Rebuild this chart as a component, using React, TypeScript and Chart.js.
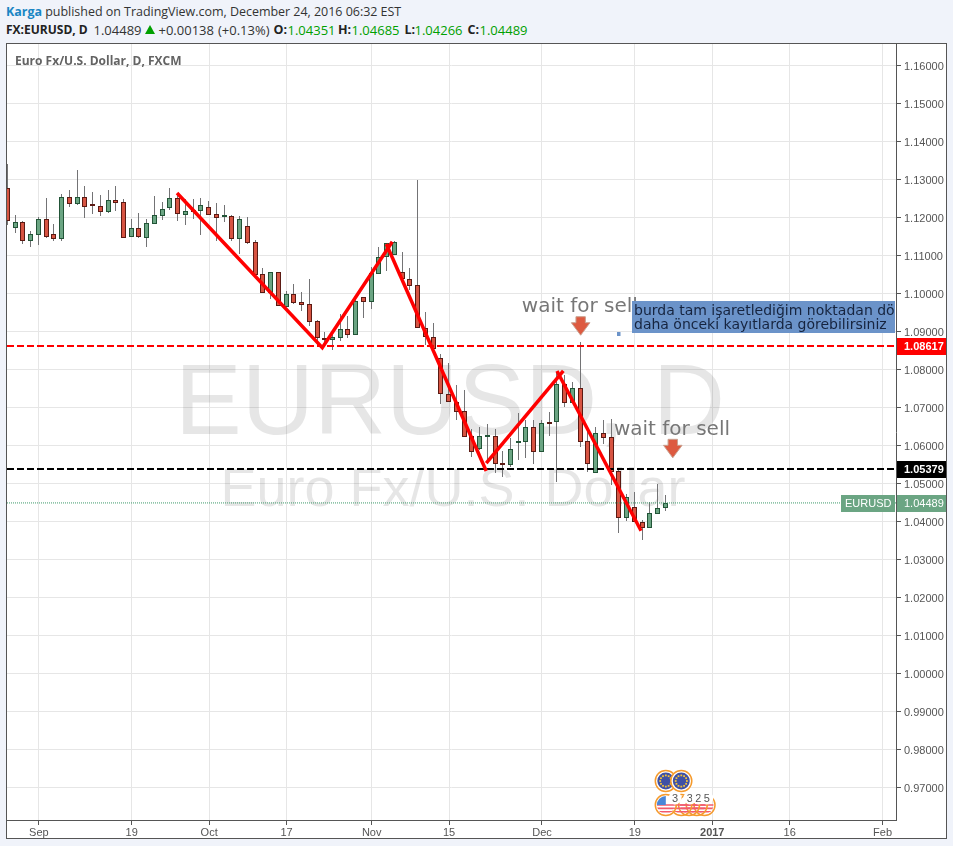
import React, { useEffect, useRef } from "react";
import { Chart, registerables } from "chart.js";

Chart.register(...registerables);

const opens = [1.1277,1.11733,1.11873,1.11391,1.11549,1.11952,1.11557,1.11443,1.12531,1.12364,1.12531,1.12347,1.12312,1.12154,1.12452,1.12399,1.11496,1.11715,1.1147,1.11838,1.12049,1.12241,1.12505,1.12075,1.12189,1.1218,1.12268,1.12084,1.12005,1.12031,1.11443,1.11768,1.11347,1.10505,1.10005,1.10557,1.09654,1.09978,1.09768,1.09715,1.09268,1.08803,1.08785,1.08838,1.09057,1.08917,1.09899,1.09785,1.10522,1.10952,1.11022,1.10557,1.10373,1.10215,1.09084,1.08864,1.08294,1.07347,1.07154,1.06899,1.06241,1.05899,1.06233,1.06241,1.05504,1.05478,1.06075,1.06101,1.06478,1.05838,1.06592,1.06627,1.0761,1.07127,1.07505,1.0611,1.05285,1.0632,1.06215,1.0532,1.04101,1.04373,1.03996,1.03838,1.04206,1.04351];
const highs = [1.13408,1.12066,1.11917,1.11645,1.12022,1.12505,1.11829,1.12619,1.12724,1.1325,1.12829,1.12671,1.12592,1.12715,1.12829,1.12478,1.1197,1.12119,1.11952,1.12566,1.12417,1.12777,1.12636,1.12487,1.12478,1.12505,1.12434,1.12382,1.12329,1.12066,1.12031,1.12013,1.11408,1.10671,1.10557,1.10557,1.10066,1.1025,1.1004,1.10382,1.09303,1.08978,1.08952,1.09452,1.09408,1.09917,1.09917,1.10706,1.11215,1.11338,1.11391,1.11084,1.10662,1.12987,1.09522,1.09215,1.08399,1.08163,1.07592,1.07461,1.06426,1.06478,1.06566,1.06426,1.05847,1.06189,1.06847,1.06671,1.06671,1.06671,1.06882,1.07899,1.07855,1.07663,1.08733,1.06496,1.06496,1.06671,1.06689,1.05355,1.04724,1.04785,1.0404,1.04504,1.04987,1.04685];
const lows = [1.11803,1.11584,1.11303,1.11233,1.11277,1.11452,1.11391,1.11391,1.12285,1.12329,1.11996,1.12101,1.12049,1.12127,1.1218,1.1147,1.11496,1.1147,1.11224,1.11838,1.11934,1.12198,1.11917,1.11803,1.11961,1.1154,1.12066,1.11391,1.11891,1.11391,1.1104,1.11303,1.10487,1.10022,1.09847,1.0968,1.09654,1.09715,1.09531,1.09154,1.08601,1.08601,1.08513,1.08759,1.08838,1.08917,1.09356,1.09592,1.10505,1.10601,1.11022,1.10312,1.10092,1.09084,1.08645,1.08513,1.07092,1.07154,1.06671,1.06233,1.05706,1.05882,1.05619,1.05268,1.0518,1.05443,1.05619,1.05662,1.05514,1.05838,1.06259,1.05048,1.07022,1.0711,1.0597,1.05312,1.05268,1.0604,1.04961,1.03689,1.04013,1.03996,1.03513,1.0382,1.04197,1.04266];
const closes = [1.1191,1.11873,1.11391,1.11557,1.11952,1.11496,1.11443,1.12531,1.12364,1.12531,1.12285,1.12312,1.12154,1.12452,1.12391,1.1147,1.11715,1.11478,1.11847,1.12057,1.12215,1.12505,1.12084,1.12163,1.12145,1.1232,1.12075,1.11996,1.12031,1.11443,1.11952,1.11338,1.10487,1.10022,1.10557,1.0968,1.09978,1.09759,1.09706,1.09259,1.0882,1.08785,1.08847,1.09057,1.08917,1.09794,1.09785,1.10531,1.10952,1.1132,1.11364,1.10373,1.10206,1.09084,1.08864,1.08531,1.07347,1.07154,1.06891,1.06233,1.0582,1.06241,1.0625,1.05504,1.05478,1.05899,1.06101,1.06478,1.05838,1.06584,1.06575,1.0761,1.07127,1.07505,1.06101,1.05522,1.0632,1.06206,1.05312,1.04101,1.04654,1.03996,1.03829,1.04215,1.04347,1.04489];

const xTickIndexes = [4, 16, 26, 36, 47, 57, 69, 81, 91, 101, 113];
const xTickLabels = ["Sep", "19", "Oct", "17", "Nov", "15", "Dec", "19", "2017", "16", "Feb"];

const trendDown1X = [21.85, 40.62, 49.66];
const trendDown1Y = [1.12645, 1.08574, 1.11363];
const trendDown2X = [48.89, 61.8];
const trendDown2Y = [1.11303, 1.05329];
const trendUp3X = [61.8, 71.76];
const trendUp3Y = [1.05539, 1.07961];
const trendDown4X = [70.94, 81.8];
const trendDown4Y = [1.07961, 1.03758];

const redLevel = 1.08617;
const blackLevel = 1.05379;
const lastPrice = 1.04489;

const noteLabels = ["wait for sell", "wait for sell"];
const noteX = [66.4, 78.3];
const noteY = [1.09513, 1.06276];
const arrowX = [74.0, 85.9];
const arrowY = [1.09389, 1.06163];
const boxLines = ["burda tam işaretlediğim noktadan dönüş", "daha önceki kayıtlarda görebilirsiniz"];

const euEventX = [85, 87];
const usEventX = [85, 87, 88, 89, 90];
const usEventCounts = ["3", "3", "2", "5"];
const usCountX = [86.2, 88.1, 89.2, 90.3];

const XMIN = -0.116;
const XMAX = 114.74;
const YMIN = 0.96145;
const YMAX = 1.16566;

const UP = "#6ba583";
const DOWN = "#d75442";
const UP_B = "#225437";
const DOWN_B = "#5b1a13";

const isUp = closes.map((c, i) => c >= opens[i]);

function pts(xs: number[], ys: number[]) {
  return xs.map((x, i) => ({ x, y: ys[i] }));
}

function roundBars(chart: any) {
  chart.getSortedVisibleDatasetMetas().forEach((meta: any) => {
    if (meta.type !== "bar") return;
    meta.data.forEach((el: any) => {
      el.x = Math.floor(el.x - 0.5) + 0.5;
      const top = Math.round(Math.min(el.y, el.base));
      const bot = Math.round(Math.max(el.y, el.base));
      el.y = top;
      el.base = Math.max(bot, top + 1);
    });
  });
}

const watermarkPlugin = {
  id: "watermark",
  beforeDatasetsDraw(chart: any) {
    roundBars(chart);
    const { ctx, chartArea } = chart;
    ctx.save();
    ctx.beginPath();
    ctx.rect(chartArea.left, chartArea.top, chartArea.right - chartArea.left, chartArea.bottom - chartArea.top);
    ctx.clip();
    ctx.textAlign = "center";
    ctx.textBaseline = "alphabetic";
    ctx.fillStyle = "rgba(80,80,80,0.14)";
    ctx.font = "100px 'Liberation Sans'";
    ctx.fillText("EURUSD, D", 450, 434);
    ctx.font = "54px 'Liberation Sans'";
    ctx.fillText("Euro Fx/U.S. Dollar", 453, 506);
    ctx.fillStyle = "#636363";
    ctx.textAlign = "left";
    ctx.font = "bold 12px 'Open Sans'";
    ctx.fillText("Euro Fx/U.S. Dollar, D, FXCM", 15, 65);
    ctx.restore();
  },
};

function drawArrow(ctx: any, cx: number, top: number) {
  ctx.beginPath();
  ctx.moveTo(cx - 4.7, top);
  ctx.lineTo(cx + 4.7, top);
  ctx.lineTo(cx + 4.7, top + 6);
  ctx.lineTo(cx + 9.3, top + 6);
  ctx.lineTo(cx, top + 18.5);
  ctx.lineTo(cx - 9.3, top + 6);
  ctx.lineTo(cx - 4.7, top + 6);
  ctx.closePath();
  ctx.fillStyle = "#dd5a40";
  ctx.fill();
  ctx.strokeStyle = "#c9a08f";
  ctx.lineWidth = 1;
  ctx.stroke();
}

function drawEu(ctx: any, cx: number, cy: number) {
  ctx.beginPath();
  ctx.arc(cx, cy, 10.5, 0, Math.PI * 2);
  ctx.fillStyle = "#fff";
  ctx.fill();
  ctx.strokeStyle = "#f59a2c";
  ctx.lineWidth = 1.5;
  ctx.stroke();
  ctx.beginPath();
  ctx.arc(cx, cy, 8.5, 0, Math.PI * 2);
  ctx.fillStyle = "#3f51a5";
  ctx.fill();
  ctx.fillStyle = "#f2c23a";
  for (let k = 0; k < 12; k++) {
    const a = (k / 12) * Math.PI * 2;
    ctx.fillRect(cx + Math.cos(a) * 5.6 - 0.9, cy + Math.sin(a) * 5.6 - 0.9, 1.8, 1.8);
  }
}

function drawUs(ctx: any, cx: number, cy: number, solid: boolean) {
  ctx.save();
  ctx.beginPath();
  ctx.arc(cx, cy, 9, 0, Math.PI * 2);
  ctx.clip();
  if (solid) {
    ctx.fillStyle = "#fff";
    ctx.fillRect(cx - 10, cy - 10, 20, 20);
  }
  ctx.strokeStyle = "#f25a6c";
  ctx.lineWidth = 1.6;
  for (let k = 0; k < 3; k++) {
    ctx.beginPath();
    ctx.moveTo(cx - 10, cy + k * 3.4);
    ctx.lineTo(cx + 10, cy + k * 3.4);
    ctx.stroke();
  }
  if (solid) {
    ctx.fillStyle = "#4a86d8";
    ctx.fillRect(cx - 9, cy - 9, 9, 9);
  }
  ctx.restore();
  ctx.beginPath();
  ctx.arc(cx, cy, 10.5, 0, Math.PI * 2);
  ctx.strokeStyle = "#f59a2c";
  ctx.lineWidth = 1.5;
  ctx.stroke();
}

const annotationPlugin = {
  id: "annotations",
  afterDatasetsDraw(chart: any) {
    const { ctx, scales, chartArea } = chart;
    const x = scales.x;
    const y = scales.y;
    ctx.save();
    ctx.beginPath();
    ctx.rect(chartArea.left, chartArea.top, chartArea.right - chartArea.left, chartArea.bottom - chartArea.top);
    ctx.clip();

    ctx.textAlign = "left";
    ctx.textBaseline = "alphabetic";
    ctx.fillStyle = "#777777";
    ctx.font = "20px 'DejaVu Sans'";
    noteLabels.forEach((t, i) => {
      ctx.fillText(t, x.getPixelForValue(noteX[i]), y.getPixelForValue(noteY[i]));
    });
    arrowX.forEach((v, i) => drawArrow(ctx, x.getPixelForValue(v), y.getPixelForValue(arrowY[i])));

    ctx.fillStyle = "#6b93c9";
    ctx.fillRect(617, 332, 3.5, 4);
    ctx.fillRect(632, 301, 263, 32);
    ctx.save();
    ctx.beginPath();
    ctx.rect(632, 301, 263, 32);
    ctx.clip();
    ctx.fillStyle = "#16243f";
    ctx.font = "14px 'DejaVu Sans'";
    ctx.fillText(boxLines[0], 634, 315);
    ctx.fillText(boxLines[1], 634, 329);
    ctx.restore();

    usEventX.slice(1).reverse().forEach((v) => drawUs(ctx, x.getPixelForValue(v), 805, false));
    drawUs(ctx, x.getPixelForValue(usEventX[0]), 805, true);
    euEventX.forEach((v) => drawEu(ctx, x.getPixelForValue(v), 781));
    usEventCounts.forEach((t, i) => {
      const cx = x.getPixelForValue(usCountX[i]);
      ctx.beginPath();
      ctx.arc(cx, 798, 6.5, 0, Math.PI * 2);
      ctx.fillStyle = "#fff";
      ctx.fill();
      ctx.fillStyle = "#555";
      ctx.font = "11px 'Liberation Sans'";
      ctx.textAlign = "center";
      ctx.fillText(t, cx, 802);
    });
    ctx.restore();
  },
  afterDraw(chart: any) {
    const { ctx, scales } = chart;
    const y = scales.y;
    const tag = (v: number, left: number, right: number, bg: string, text: string, weight: string) => {
      const py = Math.round(y.getPixelForValue(v));
      ctx.fillStyle = bg;
      ctx.fillRect(left, py - 8, right - left, 17);
      ctx.fillStyle = "#fff";
      ctx.font = weight + " 11px 'Liberation Sans'";
      ctx.textAlign = "left";
      ctx.textBaseline = "middle";
      ctx.fillText(text, left === 841 ? 845 : 904, py + 1);
    };
    ctx.save();
    tag(redLevel, 897, 946, "#ff0000", redLevel.toFixed(5), "bold");
    tag(blackLevel, 897, 946, "#000000", blackLevel.toFixed(5), "bold");
    tag(lastPrice, 841, 895, UP, "EURUSD", "normal");
    tag(lastPrice, 897, 946, UP, lastPrice.toFixed(5), "normal");
    ctx.restore();
  },
};

const headTokens: { t: string; x: number; c: string; w: number; s: number }[] = [
  { t: "FX:EURUSD, D", x: 6, c: "#222", w: 700, s: 12 },
  { t: "1.04489", x: 93.5, c: "#333", w: 400, s: 13 },
  { t: "+0.00138", x: 158.5, c: "#333", w: 400, s: 13 },
  { t: "(+0.13%)", x: 218, c: "#333", w: 400, s: 13 },
  { t: "O:", x: 273.5, c: "#222", w: 700, s: 12.5 },
  { t: "1.04351", x: 287.5, c: "#00a000", w: 400, s: 13 },
  { t: "H:", x: 338, c: "#222", w: 700, s: 12.5 },
  { t: "1.04685", x: 351.5, c: "#00a000", w: 400, s: 13 },
  { t: "L:", x: 404.5, c: "#222", w: 700, s: 12.5 },
  { t: "1.04266", x: 414.5, c: "#00a000", w: 400, s: 13 },
  { t: "C:", x: 467.5, c: "#222", w: 700, s: 12.5 },
  { t: "1.04489", x: 479.5, c: "#00a000", w: 400, s: 13 },
];

export default function App() {
  const ref = useRef<HTMLCanvasElement>(null);
  useEffect(() => {
    const idx = opens.map((_, i) => i);
    const trend = (xs: number[], ys: number[]) => ({
      type: "line" as const,
      data: pts(xs, ys),
      borderColor: "#ff0000",
      borderWidth: 3.5,
      pointRadius: 0,
      order: 0,
      clip: 0,
      borderCapStyle: "butt" as const,
      borderJoinStyle: "miter" as const,
      tension: 0,
    });
    const hline = (v: number, color: string, width: number, dash: number[]) => ({
      type: "line" as const,
      data: pts([XMIN, XMAX], [v, v]),
      borderColor: color,
      borderWidth: width,
      borderDash: dash,
      pointRadius: 0,
      order: 1,
      clip: 0,
    });
    const chart = new Chart(ref.current as HTMLCanvasElement, {
      type: "bar",
      data: {
        datasets: [
          trend(trendDown1X, trendDown1Y),
          trend(trendDown2X, trendDown2Y),
          trend(trendUp3X, trendUp3Y),
          trend(trendDown4X, trendDown4Y),
          hline(redLevel, "#ff0000", 2, [7, 3]),
          hline(blackLevel, "#000000", 2, [7, 3]),
          hline(lastPrice, "#3f9a6c", 1, [1, 1]),
          {
            type: "bar" as const,
            data: idx.map((i) => ({ x: i, y: [opens[i], closes[i]] })),
            backgroundColor: isUp.map((u) => (u ? UP : DOWN)),
            borderColor: isUp.map((u) => (u ? UP_B : DOWN_B)),
            borderWidth: 1,
            borderSkipped: false,
            barThickness: 5,
            minBarLength: 2,
            inflateAmount: 0,
            grouped: false,
            order: 2,
            clip: 0,
          },
          {
            type: "bar" as const,
            data: idx.map((i) => ({ x: i, y: [lows[i], highs[i]] })),
            backgroundColor: "#737375",
            borderWidth: 0,
            barThickness: 1,
            inflateAmount: 0,
            grouped: false,
            order: 3,
            clip: 0,
          },
        ] as any,
      },
      options: {
        responsive: false,
        animation: false,
        events: [],
        layout: { padding: { left: 7, top: 44, right: 0, bottom: 0 } },
        plugins: { legend: { display: false }, tooltip: { enabled: false }, title: { display: false } },
        scales: {
          x: {
            type: "linear",
            position: "bottom",
            min: XMIN,
            max: XMAX,
            offset: false,
            afterBuildTicks: (s: any) => {
              s.ticks = xTickIndexes.map((value) => ({ value }));
            },
            afterFit: (s: any) => {
              s.height = 26;
            },
            grid: { offset: false, color: "#e6e6e6", lineWidth: 1, tickColor: "#555555", tickLength: 5 },
            border: { color: "#555555", width: 1 },
            ticks: {
              autoSkip: false,
              maxRotation: 0,
              padding: 1,
              color: "#555555",
              font: (c: any) => ({
                family: "'Liberation Sans'",
                size: 11,
                weight: c.tick && c.tick.value === 91 ? "bold" : "normal",
              }),
              callback: (v: any) => {
                const k = xTickIndexes.indexOf(v);
                return k >= 0 ? xTickLabels[k] : "";
              },
            },
          },
          y: {
            type: "linear",
            position: "right",
            min: YMIN,
            max: YMAX,
            afterFit: (s: any) => {
              s.width = 57;
            },
            grid: { color: "#e6e6e6", lineWidth: 1, tickColor: "#555555", tickLength: 5 },
            border: { color: "#555555", width: 1 },
            ticks: {
              stepSize: 0.01,
              includeBounds: false,
              autoSkip: false,
              padding: 3,
              labelOffset: 1,
              color: "#555555",
              font: { family: "'Liberation Sans'", size: 11 },
              callback: (v: any) => Number(v).toFixed(5),
            },
          },
        },
      } as any,
      plugins: [watermarkPlugin, annotationPlugin],
    });
    return () => chart.destroy();
  }, []);

  return (
    <div style={{ position: "fixed", left: 0, top: 0, width: 953, height: 846, background: "#f0f3fa", overflow: "hidden", fontFamily: "'Open Sans'", fontSize: 12.5, color: "#333" }}>
      <div style={{ position: "absolute", left: 6, top: 3, whiteSpace: "nowrap", lineHeight: "18px", letterSpacing: "-0.03px" }}>
        <span style={{ color: "#1a86c4", fontWeight: 700 }}>Karga</span> published on TradingView.com, December 24, 2016 06:32 EST
      </div>
      {headTokens.map((h, i) => (
        <span key={i} style={{ position: "absolute", left: h.x, top: 21, whiteSpace: "nowrap", lineHeight: "18px", color: h.c, fontWeight: h.w, fontSize: h.s }}>{h.t}</span>
      ))}
      <div style={{ position: "absolute", left: 145, top: 25, width: 0, height: 0, borderLeft: "5.5px solid transparent", borderRight: "5.5px solid transparent", borderBottom: "9px solid #00a000" }} />
      <div style={{ position: "absolute", left: 6, top: 43, width: 939, height: 794, background: "#fff", border: "1px solid #555" }} />
      <canvas ref={ref} width={953} height={846} style={{ position: "absolute", left: 0, top: 0, display: "block" }} />
    </div>
  );
}
